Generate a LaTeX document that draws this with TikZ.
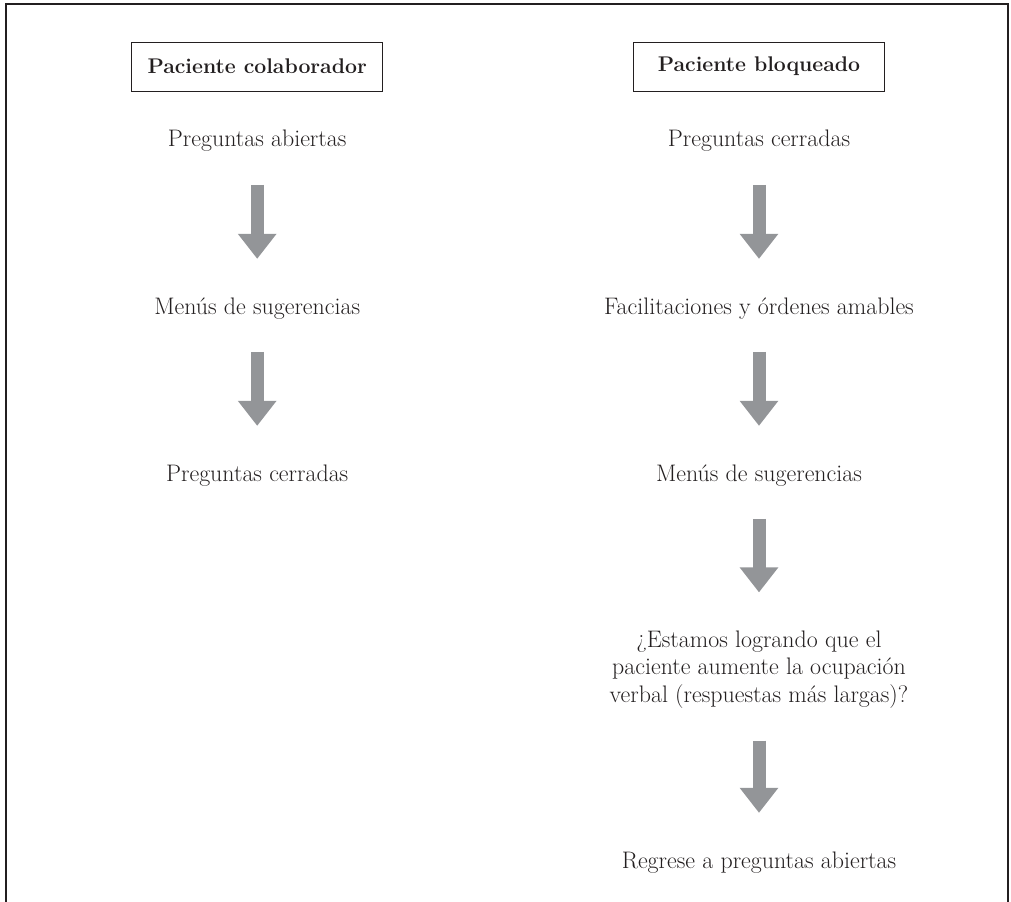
\documentclass[tikz,border=0pt]{standalone}
\usepackage{tikz}
\usetikzlibrary{arrows.meta}
\definecolor{inkgray}{HTML}{231F20}
\definecolor{arrowgray}{HTML}{939598}
\tikzstyle{header} = [rectangle, draw=inkgray, line width=0.7pt, minimum width=6.275cm, minimum height=1.225cm, text centered, text=inkgray, font=\fontsize{15.1}{18}\selectfont\bfseries]
\tikzstyle{entry} = [inner sep=0pt, text height=12pt, text depth=4pt, anchor=base, text=inkgray, font=\fontsize{17}{20}\selectfont]
\tikzstyle{question} = [inner sep=0pt, anchor=north, align=center, text=inkgray, font=\fontsize{17}{19.56}\selectfont]
\tikzstyle{arrow} = [line width=0.325cm, arrowgray, -{Triangle[width=0.925cm, length=0.625cm]}, shorten <=0.8cm, shorten >=0.95cm]

\begin{document}
\begin{tikzpicture}
            \useasboundingbox (0,0) rectangle (25.275,-22.55);
            \draw [inkgray, line width=1.1pt] (0.15,-22.55) -- (0.15,-0.1) -- (25.2,-0.1) -- (25.2,-22.55);
            % paciente colaborador
            \node [header] at (6.43,-1.6625) (colab) {Paciente colaborador};
            \node [entry] at (6.43,-3.675) (abiertas) {Preguntas abiertas};
            \node [entry] at (6.43,-7.85) (menus) {Menús de sugerencias};
            \node [entry] at (6.43,-12.025) (cerradas) {Preguntas cerradas};
            \draw [arrow] (abiertas) -- (menus);
            \draw [arrow] (menus) -- (cerradas);
            % paciente bloqueado
            \node [header] at (18.975,-1.6625) (bloq) {Paciente bloqueado};
            \node [entry] at (18.975,-3.675) (cerradasb) {Preguntas cerradas};
            \node [entry] at (18.975,-7.85) (facil) {Facilitaciones y órdenes amables};
            \node [entry] at (18.975,-12.025) (menusb) {Menús de sugerencias};
            \node [question] at (18.975,-15.76) (logrando) {¿Estamos logrando que el\\ paciente aumente la ocupación\\ verbal (respuestas más largas)?};
            \node [entry] at (18.975,-21.7) (regrese) {Regrese a preguntas abiertas};
            \draw [arrow] (cerradasb) -- (facil);
            \draw [arrow] (facil) -- (menusb);
            \draw [arrow] (menusb) -- (logrando);
            \draw [arrow] (logrando) -- (regrese);
            \end{tikzpicture}
\end{document}
